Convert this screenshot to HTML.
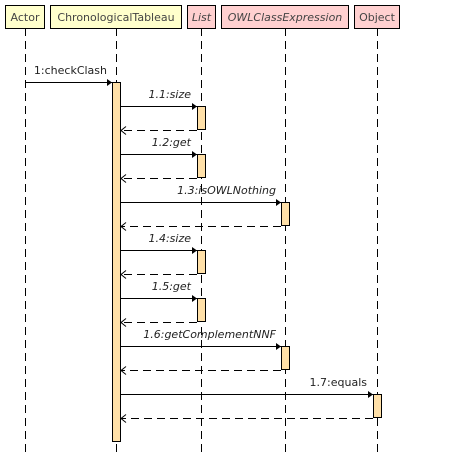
<!DOCTYPE html>
<html><head><style>body{margin:0;background:#fff}svg{display:block}</style></head><body>
<svg width="451" height="452" xmlns="http://www.w3.org/2000/svg" font-family="DejaVu Sans, Liberation Sans, sans-serif" font-size="11" fill="#333">
<g stroke="#000" stroke-width="1" stroke-dasharray="8,5" fill="none">
<line x1="25.5" y1="28" x2="25.5" y2="452"/>
<line x1="116.5" y1="28" x2="116.5" y2="452"/>
<line x1="201.5" y1="28" x2="201.5" y2="452"/>
<line x1="285.5" y1="28" x2="285.5" y2="452"/>
<line x1="377.5" y1="28" x2="377.5" y2="452"/>
</g>
<g stroke="#000" stroke-width="1">
<rect x="5.5" y="5.5" width="39" height="23" fill="#ffffcc"/>
<rect x="50.5" y="5.5" width="131" height="23" fill="#ffffcc"/>
<rect x="187.5" y="5.5" width="28" height="23" fill="#ffd0d0"/>
<rect x="221.5" y="5.5" width="127" height="23" fill="#ffd0d0"/>
<rect x="354.5" y="5.5" width="45" height="23" fill="#ffd0d0"/>
</g>
<g fill="#444">
<text x="25" y="21" text-anchor="middle">Actor</text>
<text x="116" y="21" text-anchor="middle">ChronologicalTableau</text>
<text x="201.5" y="21" text-anchor="middle" font-style="italic">List</text>
<text x="285" y="21" text-anchor="middle" font-style="italic">OWLClassExpression</text>
<text x="377" y="21" text-anchor="middle">Object</text>
</g>
<g stroke="#000" fill="#ffe0a8">
<rect x="112.5" y="82.5" width="8" height="359"/>
<rect x="197.5" y="106.5" width="8" height="23"/>
<rect x="197.5" y="154.5" width="8" height="23"/>
<rect x="281.5" y="202.5" width="8" height="23"/>
<rect x="197.5" y="250.5" width="8" height="23"/>
<rect x="197.5" y="298.5" width="8" height="23"/>
<rect x="281.5" y="346.5" width="8" height="23"/>
<rect x="373.5" y="394.5" width="8" height="23"/>
</g>
<g stroke="#000" fill="none">
<line x1="26" y1="82.5" x2="112" y2="82.5"/>
<line x1="121" y1="106.5" x2="197" y2="106.5"/>
<line x1="121" y1="154.5" x2="197" y2="154.5"/>
<line x1="121" y1="202.5" x2="281" y2="202.5"/>
<line x1="121" y1="250.5" x2="197" y2="250.5"/>
<line x1="121" y1="298.5" x2="197" y2="298.5"/>
<line x1="121" y1="346.5" x2="281" y2="346.5"/>
<line x1="121" y1="394.5" x2="373" y2="394.5"/>
<g stroke-dasharray="8,5">
<line x1="197" y1="130.5" x2="121" y2="130.5"/>
<line x1="197" y1="178.5" x2="121" y2="178.5"/>
<line x1="281" y1="226.5" x2="121" y2="226.5"/>
<line x1="197" y1="274.5" x2="121" y2="274.5"/>
<line x1="197" y1="322.5" x2="121" y2="322.5"/>
<line x1="281" y1="370.5" x2="121" y2="370.5"/>
<line x1="373" y1="418.5" x2="121" y2="418.5"/>
</g>
<g stroke-dasharray="none">
<path d="M126 126.5 L121 130.5 L126 134.5"/>
<path d="M126 174.5 L121 178.5 L126 182.5"/>
<path d="M126 222.5 L121 226.5 L126 230.5"/>
<path d="M126 270.5 L121 274.5 L126 278.5"/>
<path d="M126 318.5 L121 322.5 L126 326.5"/>
<path d="M126 366.5 L121 370.5 L126 374.5"/>
<path d="M126 414.5 L121 418.5 L126 422.5"/>
</g>
</g>
<g fill="#000">
<path d="M112 82.5 l-5 -3.5 v7z"/>
<path d="M197 106.5 l-5 -3.5 v7z"/>
<path d="M197 154.5 l-5 -3.5 v7z"/>
<path d="M281 202.5 l-5 -3.5 v7z"/>
<path d="M197 250.5 l-5 -3.5 v7z"/>
<path d="M197 298.5 l-5 -3.5 v7z"/>
<path d="M281 346.5 l-5 -3.5 v7z"/>
<path d="M373 394.5 l-5 -3.5 v7z"/>
</g>
<g fill="#222" text-anchor="end">
<text x="107" y="74">1:checkClash</text>
<text x="191" y="98" font-style="italic">1.1:size</text>
<text x="191" y="146" font-style="italic">1.2:get</text>
<text x="276" y="194" font-style="italic">1.3:isOWLNothing</text>
<text x="191" y="242" font-style="italic">1.4:size</text>
<text x="191" y="290" font-style="italic">1.5:get</text>
<text x="276" y="338" font-style="italic">1.6:getComplementNNF</text>
<text x="367" y="386">1.7:equals</text>
</g>
</svg>
</body></html>
